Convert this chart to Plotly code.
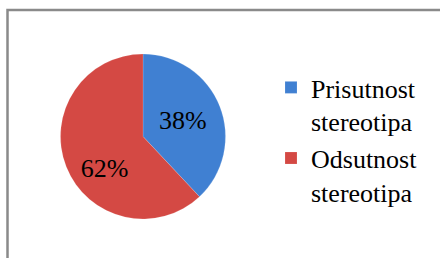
import plotly.graph_objects as go

labels = ["Prisutnost<br>stereotipa", "Odsutnost<br>stereotipa"]
values = [38, 62]
colors = ["#4080D2", "#D44944"]

W, H = 440, 258
SERIF = "Liberation Serif"
fig = go.Figure()
fig.add_trace(go.Pie(
    labels=labels, values=values, sort=False, direction="clockwise", rotation=0,
    marker=dict(colors=colors, line=dict(color="rgba(255,255,255,0.3)", width=0.5)),
    texttemplate=["%{percent:.0%}", "\u00a0<br>%{percent:.0%}"],
    textposition="inside", insidetextorientation="horizontal",
    textfont=dict(family=SERIF, size=26, color="black"),
    domain=dict(x=[60 / W, 226 / W], y=[1 - 219 / H, 1 - 54 / H]),
    hoverinfo="skip",
))
fig.add_shape(type="rect", xref="paper", yref="paper",
              x0=7.5 / W, x1=1.2, y0=-0.2, y1=1 - 10 / H,
              line=dict(color="#8a8a8a", width=2.5), fillcolor="rgba(0,0,0,0)")
fig.update_layout(
    width=W, height=H, margin=dict(l=0, r=0, t=0, b=0),
    paper_bgcolor="white", plot_bgcolor="white",
    showlegend=True,
    legend=dict(x=271 / W, y=1 - 64 / H, xanchor="left", yanchor="top",
                font=dict(family=SERIF, size=26, color="black"),
                valign="top", bgcolor="rgba(0,0,0,0)"),
)
fig.write_html("out.html", post_script="document.body.style.margin='0';",
               config={"displayModeBar": False})
